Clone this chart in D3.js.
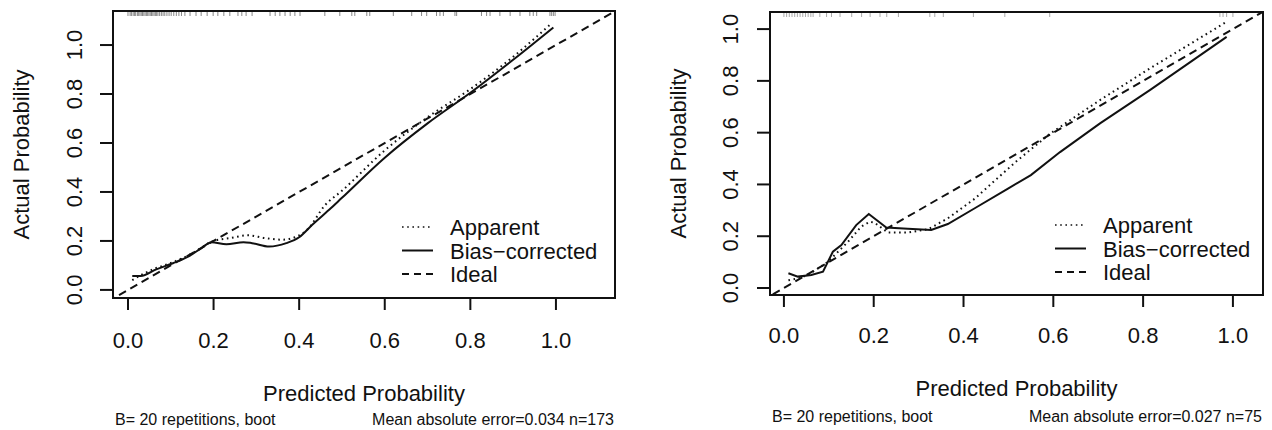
<!DOCTYPE html>
<meta charset="utf-8">
<script src="https://d3js.org/d3.v7.min.js"></script>
<style>
  body { margin: 0; background: #fff; }
  text { font-family: "Liberation Sans", Arial, sans-serif; fill: #111; }
</style>
<div id="chart"></div>
<script>
// tick values shared by both panels
var tickValues = [0, 0.2, 0.4, 0.6, 0.8, 1.0];
var tickLabels = ["0.0", "0.2", "0.4", "0.6", "0.8", "1.0"];
var legendLabels = ["Apparent", "Bias\u2212corrected", "Ideal"];

// left panel (n=173)
var leftAppX = [0.01, 0.03, 0.06, 0.10, 0.14, 0.17, 0.195, 0.24, 0.28, 0.32, 0.36, 0.39, 0.42, 0.46, 0.50, 0.60, 0.70, 0.80, 0.90, 0.988];
var leftAppY = [0.04, 0.06, 0.085, 0.11, 0.14, 0.17, 0.197, 0.212, 0.223, 0.212, 0.205, 0.215, 0.248, 0.345, 0.405, 0.57, 0.705, 0.82, 0.952, 1.086];
var leftBiasX = [0.01, 0.03, 0.066, 0.105, 0.144, 0.171, 0.195, 0.23, 0.27, 0.29, 0.33, 0.37, 0.40, 0.43, 0.47, 0.50, 0.60, 0.70, 0.80, 0.90, 0.994];
var leftBiasY = [0.057, 0.057, 0.084, 0.109, 0.139, 0.170, 0.195, 0.187, 0.195, 0.191, 0.177, 0.191, 0.215, 0.265, 0.327, 0.376, 0.54, 0.68, 0.805, 0.94, 1.072];
var leftRug = [0.000, 0.005, 0.008, 0.012, 0.015, 0.018, 0.022, 0.025, 0.028, 0.031, 0.034, 0.037, 0.040, 0.043,
  0.046, 0.049, 0.052, 0.055, 0.058, 0.061, 0.064, 0.067, 0.070, 0.074, 0.078, 0.082, 0.086, 0.091, 0.096,
  0.101, 0.107, 0.113, 0.119, 0.125, 0.133, 0.145, 0.159, 0.171, 0.185, 0.199, 0.210, 0.224, 0.238,
  0.257, 0.266, 0.276, 0.290, 0.332, 0.344, 0.355, 0.367, 0.379, 0.390, 0.402, 0.460, 0.495, 0.523,
  0.530, 0.558, 0.565, 0.620, 0.663, 0.686, 0.698, 0.721, 0.729, 0.737, 0.764, 0.768, 0.826, 0.838,
  0.846, 0.869, 0.893, 0.916, 0.939, 0.947, 0.955, 0.986, 0.990, 0.994, 0.998];
var leftFooter = ["B= 20 repetitions, boot", "Mean absolute error=0.034 n=173"];

// right panel (n=75)
var rightAppX = [0.01, 0.038, 0.061, 0.094, 0.113, 0.143, 0.172, 0.191, 0.202, 0.232, 0.276, 0.321, 0.365, 0.425, 0.518, 0.592, 0.704, 0.815, 0.982];
var rightAppY = [0.03, 0.039, 0.059, 0.096, 0.127, 0.179, 0.237, 0.256, 0.252, 0.214, 0.214, 0.227, 0.269, 0.345, 0.49, 0.595, 0.726, 0.848, 1.024];
var rightBiasX = [0.01, 0.031, 0.061, 0.087, 0.109, 0.128, 0.161, 0.189, 0.228, 0.276, 0.328, 0.365, 0.425, 0.50, 0.55, 0.615, 0.704, 0.815, 0.986];
var rightBiasY = [0.057, 0.044, 0.050, 0.063, 0.140, 0.166, 0.243, 0.286, 0.234, 0.229, 0.224, 0.247, 0.308, 0.385, 0.436, 0.525, 0.636, 0.764, 0.970];
var rightRug = [0.000, 0.006, 0.012, 0.018, 0.024, 0.030, 0.036, 0.042, 0.048, 0.054, 0.060, 0.065, 0.080, 0.095,
  0.106, 0.125, 0.151, 0.173, 0.192, 0.214, 0.229, 0.255, 0.325, 0.336, 0.355, 0.422, 0.492, 0.592,
  0.971, 0.978, 0.986, 1.000];
var rightFooter = ["B= 20 repetitions, boot", "Mean absolute error=0.027 n=75"];

var svg = d3.select("#chart").append("svg")
  .attr("width", 1272)
  .attr("height", 430);

function zip(xs, ys) { return xs.map(function(v, i) { return [v, ys[i]]; }); }

function drawPanel(p) {
  var x = d3.scaleLinear().domain(p.xDomain).range([p.box.x0, p.box.x1]);
  var y = d3.scaleLinear().domain(p.yDomain).range([p.box.y1, p.box.y0]);
  var g = svg.append("g");

  var clipId = "clip" + p.id;
  g.append("clipPath").attr("id", clipId)
    .append("rect")
      .attr("x", p.box.x0).attr("y", p.box.y0)
      .attr("width", p.box.x1 - p.box.x0).attr("height", p.box.y1 - p.box.y0);

  // x axis ticks + labels
  g.selectAll(".xt").data(tickValues).enter().append("line")
    .attr("x1", function(d) { return x(d); }).attr("x2", function(d) { return x(d); })
    .attr("y1", p.box.y1).attr("y2", p.box.y1 + 12)
    .attr("stroke", "#111").attr("stroke-width", 2);
  g.selectAll(".xl").data(tickValues).enter().append("text")
    .attr("x", function(d) { return x(d); })
    .attr("y", p.xTickBase)
    .attr("text-anchor", "middle")
    .style("font-size", "22px")
    .text(function(d, i) { return tickLabels[i]; });

  // y axis ticks + labels
  g.selectAll(".yt").data(tickValues).enter().append("line")
    .attr("x1", p.box.x0 - 13).attr("x2", p.box.x0)
    .attr("y1", function(d) { return y(d); }).attr("y2", function(d) { return y(d); })
    .attr("stroke", "#111").attr("stroke-width", 2);
  g.selectAll(".yl").data(tickValues).enter().append("text")
    .attr("transform", function(d) { return "translate(" + p.yTickBase + "," + y(d) + ") rotate(-90)"; })
    .attr("text-anchor", "middle")
    .style("font-size", "22px")
    .text(function(d, i) { return tickLabels[i]; });

  // axis titles
  g.append("text")
    .attr("x", (p.box.x0 + p.box.x1) / 2)
    .attr("y", p.xLabelBase)
    .attr("text-anchor", "middle")
    .style("font-size", "22px")
    .text("Predicted Probability");
  g.append("text")
    .attr("transform", "translate(" + p.yLabelBase + "," + ((p.box.y0 + p.box.y1) / 2) + ") rotate(-90)")
    .attr("text-anchor", "middle")
    .style("font-size", "22px")
    .text("Actual Probability");

  // footer
  g.append("text")
    .attr("x", p.box.x0 + 2).attr("y", p.footBase)
    .style("font-size", "16px")
    .text(p.footer[0]);
  g.append("text")
    .attr("x", p.box.x1 - 1).attr("y", p.footBase)
    .attr("text-anchor", "end")
    .style("font-size", "16px")
    .text(p.footer[1]);

  // rug of predicted values along top
  g.selectAll(".rug").data(p.rug).enter().append("line")
    .attr("x1", function(d) { return x(d); }).attr("x2", function(d) { return x(d); })
    .attr("y1", p.box.y0 + 1).attr("y2", p.box.y0 + 5)
    .attr("stroke", p.rugColor).attr("stroke-width", 1);

  var plot = g.append("g").attr("clip-path", "url(#" + clipId + ")");

  // ideal line
  plot.append("line")
    .attr("x1", x(-0.1)).attr("y1", y(-0.1))
    .attr("x2", x(1.2)).attr("y2", y(1.2))
    .attr("stroke", "#111").attr("stroke-width", 2)
    .attr("stroke-dasharray", "8,5");

  var line = d3.line()
    .x(function(d) { return x(d[0]); })
    .y(function(d) { return y(d[1]); })
    .curve(p.curve);

  plot.append("path")
    .datum(zip(p.appX, p.appY))
    .attr("d", line)
    .attr("fill", "none").attr("stroke", "#111").attr("stroke-width", 2)
    .attr("stroke-dasharray", "1.6,3.6");

  plot.append("path")
    .datum(zip(p.biasX, p.biasY))
    .attr("d", line)
    .attr("fill", "none").attr("stroke", "#111").attr("stroke-width", 2);

  // legend
  var dashes = ["1.6,3.6", null, "7,5"];
  legendLabels.forEach(function(lab, i) {
    var base = p.legend.y + i * 23.5;
    g.append("line")
      .attr("x1", p.legend.x).attr("x2", p.legend.x + 31)
      .attr("y1", base - 8).attr("y2", base - 8)
      .attr("stroke", "#111").attr("stroke-width", i == 0 ? 1.6 : 2)
      .attr("stroke-dasharray", dashes[i]);
    g.append("text")
      .attr("x", p.legend.x + 48).attr("y", base)
      .style("font-size", "22px")
      .text(lab);
  });

  // frame
  g.append("rect")
    .attr("x", p.box.x0).attr("y", p.box.y0)
    .attr("width", p.box.x1 - p.box.x0).attr("height", p.box.y1 - p.box.y0)
    .attr("fill", "none").attr("stroke", "#111").attr("stroke-width", 2);
}

drawPanel({
  id: "L",
  box: {x0: 113, x1: 615, y0: 11, y1: 298},
  xDomain: [-0.035, 1.138], yDomain: [-0.033, 1.139],
  xTickBase: 348, yTickBase: 82, xLabelBase: 401, yLabelBase: 29, footBase: 425,
  appX: leftAppX, appY: leftAppY, biasX: leftBiasX, biasY: leftBiasY,
  rug: leftRug, rugColor: "#888", footer: leftFooter,
  curve: d3.curveMonotoneX,
  legend: {x: 402, y: 235}
});

drawPanel({
  id: "R",
  box: {x0: 770, x1: 1263, y0: 12, y1: 295},
  xDomain: [-0.031, 1.067], yDomain: [-0.027, 1.066],
  xTickBase: 343, yTickBase: 738, xLabelBase: 396, yLabelBase: 686, footBase: 422,
  appX: rightAppX, appY: rightAppY, biasX: rightBiasX, biasY: rightBiasY,
  rug: rightRug, rugColor: "#aaa", footer: rightFooter,
  curve: d3.curveLinear,
  legend: {x: 1055, y: 233}
});
</script>
